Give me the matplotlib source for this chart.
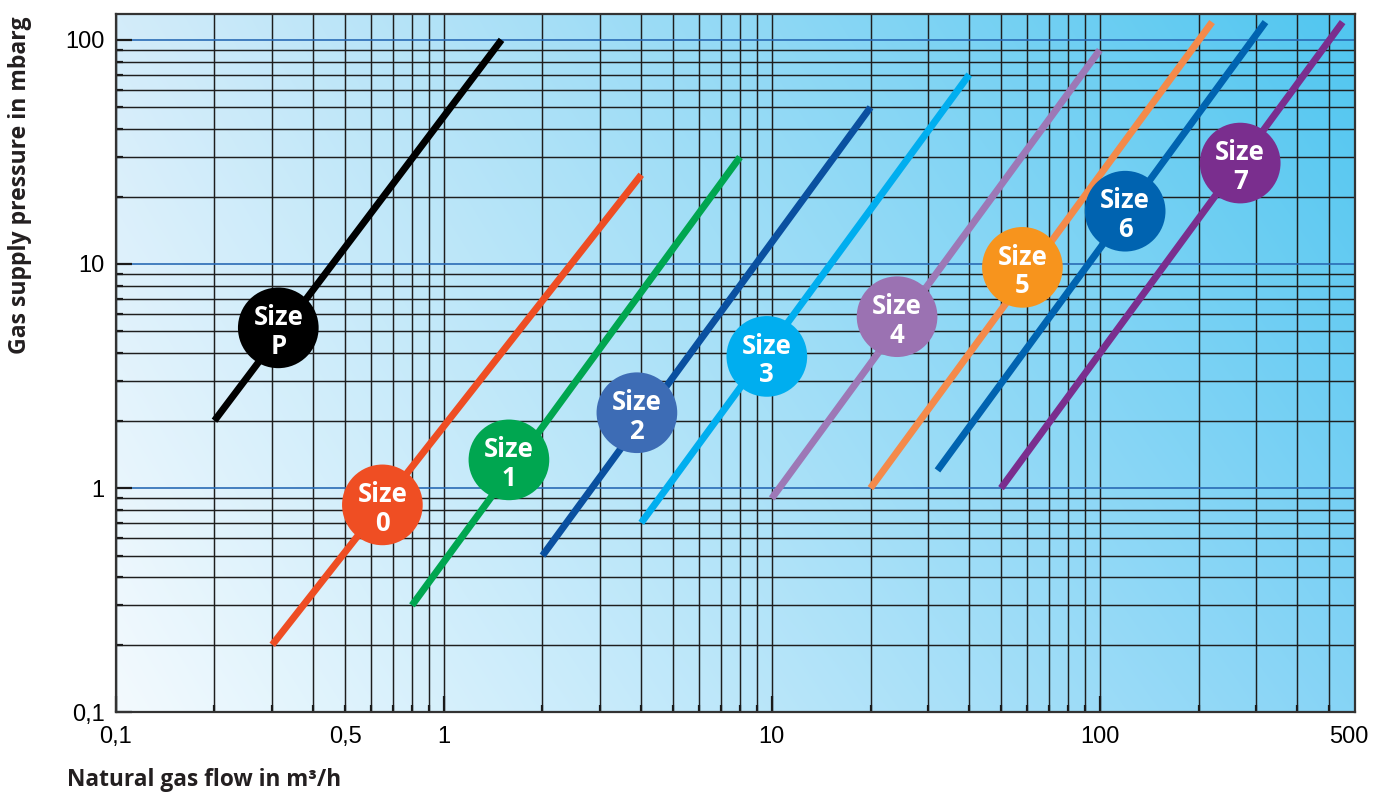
import numpy as np
import matplotlib
matplotlib.use("Agg")
import matplotlib.pyplot as plt
from matplotlib.ticker import FixedLocator, FuncFormatter
from matplotlib.transforms import offset_copy

# ---- data ----
sizes = ['P', '0', '1', '2', '3', '4', '5', '6', '7']
flow_start = [0.2, 0.3, 0.8, 2, 4, 10, 20, 32, 50]
flow_end = [1.5, 4, 8, 20, 40, 100, 220, 320, 550]
pressure_start = [2, 0.2, 0.3, 0.5, 0.7, 0.9, 1.0, 1.2, 1.0]
pressure_end = [100, 25, 30, 50, 70, 90, 120, 120, 120]
label_flow = [0.313, 0.65, 1.58, 3.88, 9.66, 24.1, 58.1, 119.5, 268]
label_pressure = [5.19, 0.842, 1.337, 2.17, 3.87, 5.82, 9.66, 17.2, 28.2]

line_colors = ['#000000', '#ee4d23', '#00a650', '#0a50a0', '#00aeef',
               '#9d78b6', '#f48a4a', '#0063b0', '#7a2e8e']
circle_colors = ['#000000', '#ef4e23', '#00a650', '#3d6cb5', '#00aeef',
                 '#9b72b2', '#f7941d', '#0063b0', '#7a2e8e']

x_major = [0.1, 1, 10, 100]
x_major_labels = ['0,1', '1', '10', '100']
x_minor_labeled = {0.5: '0,5', 500: '500'}
y_major = [0.1, 1, 10, 100]
y_major_labels = ['0,1', '1', '10', '100']

x_label = 'Natural gas flow in m³/h'
y_label = 'Gas supply pressure in mbarg'

# ---- figure ----
fig = plt.figure(figsize=(13.73, 7.94), dpi=100)
ax = fig.add_axes([0.0843, 0.1029, 0.9026, 0.8791])
ax.set_xscale('log')
ax.set_yscale('log')
ax.set_xlim(0.1, 600)
ax.set_ylim(0.1, 130)

# background gradient (bilinear between corner colours)
bl = np.array([243, 250, 254]) / 255
tl = np.array([211, 236, 250]) / 255
tr = np.array([80, 198, 240]) / 255
br = np.array([134, 212, 246]) / 255
nx, ny = 300, 200
u = np.linspace(0, 1, nx)[None, :, None]
v = np.linspace(0, 1, ny)[:, None, None]  # 0 bottom -> 1 top
img = (1 - u) * (1 - v) * bl + u * (1 - v) * br + (1 - u) * v * tl + u * v * tr
ax.imshow(img, extent=[0, 1, 0, 1], transform=ax.transAxes, origin='lower',
          aspect='auto', zorder=-2, interpolation='bilinear')

# ticks
x_minor = [m * d for d in [0.1, 1, 10, 100] for m in range(2, 10) if m * d < 600]
y_minor = [m * d for d in [0.1, 1, 10] for m in range(2, 10)]
ax.xaxis.set_major_locator(FixedLocator(x_major))
ax.xaxis.set_minor_locator(FixedLocator(x_minor))
ax.yaxis.set_major_locator(FixedLocator(y_major))
ax.yaxis.set_minor_locator(FixedLocator(y_minor))
ax.xaxis.set_major_formatter(FuncFormatter(
    lambda val, pos: x_major_labels[int(np.argmin([abs(np.log10(val / t)) for t in x_major]))]))
ax.yaxis.set_major_formatter(FuncFormatter(
    lambda val, pos: y_major_labels[int(np.argmin([abs(np.log10(val / t)) for t in y_major]))]))

def minor_fmt(val, pos):
    for k, s in x_minor_labeled.items():
        if abs(np.log10(val / k)) < 1e-6:
            return s
    return ''

ax.xaxis.set_minor_formatter(FuncFormatter(minor_fmt))
ax.yaxis.set_minor_formatter(FuncFormatter(lambda v, p: ''))

ax.tick_params(which='both', direction='in', top=False, right=False,
               color='#1a1a1a', width=1.6, labelsize=17)
ax.tick_params(which='major', length=11.5)
ax.tick_params(which='minor', length=5)
ax.tick_params(axis='x', which='both', pad=10)
ax.tick_params(axis='y', which='both', pad=8)
for lab in ax.get_xticklabels(which='both') + ax.get_yticklabels(which='both'):
    lab.set_fontfamily('Liberation Sans')

# grid
grid_col = '#1e1e1e'
ax.xaxis.grid(True, which='both', color=grid_col, lw=1.05)
ax.yaxis.grid(True, which='minor', color=grid_col, lw=1.05)
ax.yaxis.grid(True, which='major', color='#2a6bb5', lw=1.2)
ax.set_axisbelow(True)

for sp in ax.spines.values():
    sp.set_color('#333333')
    sp.set_linewidth(1.6)

# size lines
for xs, xe, ys, ye, c in zip(flow_start, flow_end, pressure_start, pressure_end, line_colors):
    ax.plot([xs, xe], [ys, ye], color=c, lw=5.0, solid_capstyle='butt', zorder=3)

# circles with labels
ax.scatter(label_flow, label_pressure, s=3375, c=circle_colors, edgecolors='none', zorder=4)
txt_trans = offset_copy(ax.transData, fig=fig, x=0, y=-4, units='dots')
for fx, py, s in zip(label_flow, label_pressure, sizes):
    ax.text(fx, py, 'Size\n' + s, ha='center', va='center', color='white',
            family='Open Sans', weight='bold', fontsize=18.5, linespacing=1.08,
            zorder=5, transform=txt_trans)

# axis labels
fig.text(67 / 1373, 1 - 780 / 794, x_label, ha='left', va='center',
         family='Open Sans', weight='bold', fontsize=16.3, color='#231f20')
fig.text(20 / 1373, 1 - 185 / 794, y_label, ha='center', va='center', rotation=90,
         family='Open Sans', weight='bold', fontsize=16.6, color='#231f20')

fig.canvas.draw()
for t in ax.xaxis.get_minor_ticks():
    if t.label1.get_text() == '500':
        t.label1.set_horizontalalignment('left')

fig.savefig('out.png', dpi=100)
